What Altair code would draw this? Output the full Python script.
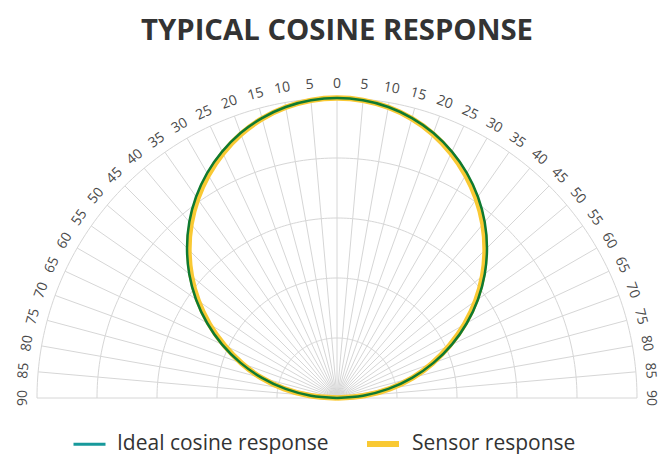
import altair as alt
import pandas as pd

# ---- data ----
angles = [-90, -85, -80, -75, -70, -65, -60, -55, -50, -45, -40, -35, -30, -25, -20, -15, -10, -5,
          0, 5, 10, 15, 20, 25, 30, 35, 40, 45, 50, 55, 60, 65, 70, 75, 80, 85, 90]
ideal = [0.0, 0.087, 0.174, 0.259, 0.342, 0.423, 0.5, 0.574, 0.643, 0.707, 0.766, 0.819, 0.866,
         0.906, 0.940, 0.966, 0.985, 0.996, 1.0,
         0.996, 0.985, 0.966, 0.940, 0.906, 0.866, 0.819, 0.766, 0.707, 0.643, 0.574, 0.5, 0.423,
         0.342, 0.259, 0.174, 0.087, 0.0]
sensor = [0.0, 0.093, 0.180, 0.262, 0.338, 0.414, 0.491, 0.565, 0.634, 0.698, 0.757, 0.810, 0.858,
          0.900, 0.936, 0.964, 0.984, 0.996, 1.0,
          0.996, 0.984, 0.964, 0.936, 0.900, 0.858, 0.810, 0.757, 0.698, 0.634, 0.565, 0.491, 0.414,
          0.338, 0.262, 0.180, 0.093, 0.0]
series_names = ["Ideal cosine response", "Sensor response"]
legend_colors = ["#17999b", "#f9c933"]
legend_widths = [3, 6]
ring_radii = [0.2, 0.4, 0.6, 0.8, 1.0]
spoke_angles = list(range(-90, 91, 5))
ring_steps = list(range(-90, 91, 1))

GRID = "#d6d6d6"
GREEN = "#0f7a31"
YELLOW = "#f9c933"
FONT = "Open Sans"

lines_df = pd.DataFrame(
    {"angle": angles * 2,
     "r": ideal + sensor,
     "series": [series_names[0]] * len(angles) + [series_names[1]] * len(angles)}
)
rings_df = pd.DataFrame(
    [{"ring": rr, "angle": a, "r": rr} for rr in ring_radii for a in ring_steps]
)
spokes_df = pd.DataFrame({"angle": spoke_angles})
labels_df = pd.DataFrame({"angle": spoke_angles, "label": [str(abs(a)) for a in spoke_angles]})
legend_df = pd.DataFrame({"series": series_names, "x": [0.0, 0.0], "y": [0.0, 0.0]})

xs = alt.Scale(domain=[-1, 1], nice=False, zero=False)
ys = alt.Scale(domain=[0, 1], nice=False, zero=False)


def polar(chart, rfield="datum.r"):
    return chart.transform_calculate(
        rad="datum.angle * PI / 180"
    ).transform_calculate(
        x=f"{rfield} * sin(datum.rad)", y=f"{rfield} * cos(datum.rad)"
    )


rings = polar(alt.Chart(rings_df)).mark_line(color=GRID, strokeWidth=1).encode(
    x=alt.X("x:Q", scale=xs, axis=None),
    y=alt.Y("y:Q", scale=ys, axis=None),
    detail="ring:N",
    order="angle:Q",
)

spokes = alt.Chart(spokes_df).transform_calculate(
    rad="datum.angle * PI / 180"
).transform_calculate(
    x0="0", y0="0", x1="sin(datum.rad)", y1="cos(datum.rad)"
).mark_rule(color=GRID, strokeWidth=1).encode(
    x=alt.X("x0:Q", scale=xs, axis=None),
    y=alt.Y("y0:Q", scale=ys, axis=None),
    x2="x1:Q",
    y2="y1:Q",
)

labels = polar(alt.Chart(labels_df), "1.048").transform_calculate(
    rot="(datum.angle + 360) % 360"
).mark_text(font=FONT, fontSize=14, color="#4a4a4a", align="center", baseline="middle").encode(
    x=alt.X("x:Q", scale=xs, axis=None),
    y=alt.Y("y:Q", scale=ys, axis=None),
    text="label:N",
    angle=alt.Angle("rot:Q", scale=None),
)

sensor_line = polar(alt.Chart(lines_df)).transform_filter(
    alt.datum.series == series_names[1]
).mark_line(color=YELLOW, strokeWidth=5.5, interpolate="catmull-rom").encode(
    x=alt.X("x:Q", scale=xs, axis=None),
    y=alt.Y("y:Q", scale=ys, axis=None),
    order="angle:Q",
)

ideal_line = polar(alt.Chart(lines_df)).transform_filter(
    alt.datum.series == series_names[0]
).mark_line(color=GREEN, strokeWidth=2.5, interpolate="catmull-rom").encode(
    x=alt.X("x:Q", scale=xs, axis=None),
    y=alt.Y("y:Q", scale=ys, axis=None),
    order="angle:Q",
)

leg = alt.Legend(
    title=None, orient="none", direction="horizontal", legendX=35, legendY=327,
    symbolType="stroke", symbolSize=1024, labelFont=FONT, labelFontSize=21,
    labelColor="#333333", labelOffset=10, columnPadding=26, symbolOffset=0,
    labelLimit=400,
)
legend_layer = alt.Chart(legend_df).mark_line().encode(
    x=alt.X("x:Q", scale=xs, axis=None),
    y=alt.Y("y:Q", scale=ys, axis=None),
    color=alt.Color("series:N", scale=alt.Scale(domain=series_names, range=legend_colors), legend=leg),
    strokeWidth=alt.StrokeWidth("series:N", scale=alt.Scale(domain=series_names, range=legend_widths), legend=leg),
)

chart = alt.layer(rings, spokes, labels, sensor_line, ideal_line, legend_layer).properties(
    width=600,
    height=300,
    autosize=alt.AutoSizeParams(type="none"),
    padding={"left": 29, "top": 90, "right": 22, "bottom": 56},
    title=alt.TitleParams(
        "TYPICAL COSINE RESPONSE", anchor="middle", frame="group", font=FONT,
        fontSize=29.3, fontWeight="bold", color="#333333", offset=30,
    ),
).configure_view(stroke=None)

chart.save("out.html", embed_options={"renderer": "svg", "actions": False})
